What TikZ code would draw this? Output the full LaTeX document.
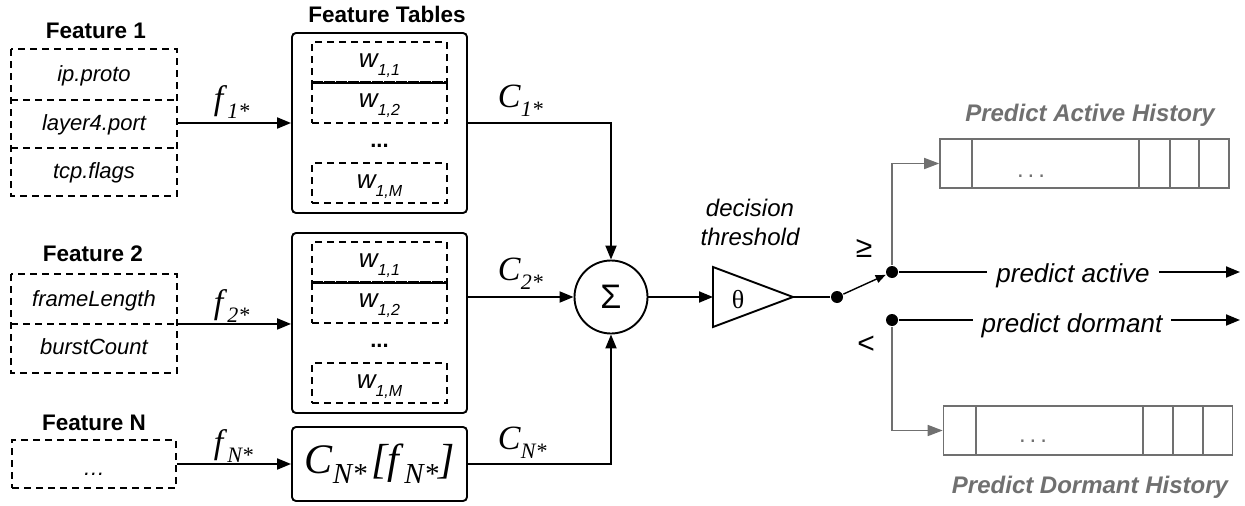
\documentclass[tikz,border=0pt]{standalone}
\usepackage{fontspec}
\setmainfont{Liberation Serif}
\setsansfont{Liberation Sans}
\usetikzlibrary{arrows.meta,calc}
\newcommand\fsz[1]{\fontsize{#1}{#1}\selectfont}
\newcommand\wl[1]{w\raisebox{-8pt}{\fsz{16}#1}}
\newcommand\sublab[2]{\textit{#1}\raisebox{-9pt}{\fsz{22}\textit{#2}}}
\newcommand\bigsub[1]{\raisebox{-10pt}{\fsz{29}\textit{#1}}}
\definecolor{hgray}{HTML}{707070}
\begin{document}
\begin{tikzpicture}[x=1pt,y=-1pt,line width=1.9pt,
  arr/.style={-{Triangle[length=14pt,width=11pt]}},
  garr/.style={draw=hgray,line width=1.6pt,-{Triangle[length=15pt,width=11pt]}},
  title/.style={font=\sffamily\bfseries\fsz{22.5}, inner sep=0pt, anchor=base},
  row/.style={minimum width=164pt, inner sep=0pt, font=\sffamily\itshape\fsz{22}, text height=16pt, text depth=2pt},
  tbl/.style={draw, rounded corners=4pt, minimum width=175pt, minimum height=180pt, inner sep=0pt},
  wbox/.style={minimum width=135pt, inner sep=0pt, font=\sffamily\itshape\fsz{26}, text height=14pt, text depth=4pt},
  dashbox/.style={draw, dash pattern=on 7pt off 5pt},
  mlab/.style={font=\rmfamily\fsz{34}, inner sep=0pt, anchor=base west},
  dot/.style={circle, fill, inner sep=0pt, minimum size=12pt},
  hist/.style={draw=hgray, line width=1.6pt, minimum width=289pt, minimum height=49pt, inner sep=0pt},
  htitle/.style={font=\sffamily\bfseries\itshape\fsz{24}, text=hgray, inner sep=0pt, anchor=base},
  pred/.style={font=\sffamily\itshape\fsz{26}, fill=white, inner xsep=9pt, inner ysep=0pt, anchor=base},
  dots/.style={font=\sffamily\bfseries\fsz{22}, inner sep=0pt, anchor=base},
]
\useasboundingbox (0,0) rectangle (1245,506);

% ---------- Feature 1 ----------
\node[title] (lF1) at (96,38) {Feature 1};
\node[row, minimum height=49pt] (f1a) at (94,74.5) {ip.proto};
\node[row, minimum height=48pt] (f1b) at (94,123) {layer4.port};
\node[row, minimum height=48pt] (f1c) at (94,171) {tcp.flags};
\draw[dashbox] (f1a.north west) rectangle (f1c.south east);
\draw[dashbox] (f1a.south west) -- (f1a.south east);
\draw[dashbox] (f1b.south west) -- (f1b.south east);

% ---------- Feature 2 ----------
\node[title] (lF2) at (93,261) {Feature 2};
\node[row, minimum height=48pt] (f2a) at (94,299) {frameLength};
\node[row, minimum height=49pt] (f2b) at (94,347.5) {burstCount};
\draw[dashbox] (f2a.north west) rectangle (f2b.south east);
\draw[dashbox] (f2a.south west) -- (f2a.south east);

% ---------- Feature N ----------
\node[title] (lFN) at (94,430) {Feature N};
\node[row, minimum height=48pt, dashbox, text height=22pt, text depth=0pt] (fN) at (94,464) {…};

% ---------- Feature tables ----------
\node[title] (lFT) at (387,22) {Feature Tables};
\node[tbl] (t1) at (379.5,123) {};
\node[wbox, dashbox, minimum height=40pt] (w11) at (379.5,62) {\wl{1,1}};
\node[wbox, dashbox, minimum height=41pt] (w12) at (379.5,102.5) {\wl{1,2}};
\draw (w11.south west) -- (w11.south east);
\node[dots] (t1d) at (379.5,147) {...};
\node[wbox, dashbox, minimum height=40pt] (w1M) at (379.5,183) {\wl{1,M}};

\node[tbl] (t2) at (379.5,323) {};
\node[wbox, dashbox, minimum height=40pt] (w21) at (379.5,262) {\wl{1,1}};
\node[wbox, dashbox, minimum height=41pt] (w22) at (379.5,302.5) {\wl{1,2}};
\draw (w21.south west) -- (w21.south east);
\node[dots] (t2d) at (379.5,347) {...};
\node[wbox, dashbox, minimum height=40pt] (w2M) at (379.5,383) {\wl{1,M}};

\node[draw, rounded corners=4pt, minimum width=175pt, minimum height=74pt, inner sep=0pt,
      font=\rmfamily\fsz{42}, text height=26pt, text depth=8pt] (cN) at (379.5,464)
      {\textit{C}\bigsub{N*}\hspace{5pt}\textit{[f}\bigsub{N*}\textit{]}};

% ---------- input arrows ----------
\draw[arr] (f1b.east) -- (f1b.east -| t1.west);
\draw[arr] (f2a.south east) -- (f2a.south east -| t2.west);
\draw[arr] (fN.east) -- (fN.east -| cN.west);
\node[mlab] (lf1) at (213,109) {\sublab{f}{1*}};
\node[mlab] (lf2) at (213,313) {\sublab{f}{2*}};
\node[mlab] (lfN) at (213,453) {\sublab{f}{N*}};

% ---------- sum ----------
\node[circle, draw, minimum size=73pt, inner sep=0pt, font=\sffamily\fsz{34}] (S) at (611,297) {Σ};
\draw[arr] (t1.east) -| (S.north);
\draw[arr] (t2.east |- S.west) -- (S.west);
\draw[arr] (cN.east) -| (S.south);
\node[mlab] (lc1) at (497,107) {\sublab{C}{1*}};
\node[mlab] (lc2) at (497,280) {\sublab{C}{2*}};
\node[mlab] (lcN) at (497,449) {\sublab{C}{N*}};

% ---------- threshold ----------
\coordinate (thL) at (713,297);
\coordinate (thT) at (793,297);
\draw (713,267) -- (thT) -- (713,327) -- cycle;
\node[font=\rmfamily\fsz{26}, inner sep=0pt] (theta) at (738,300) {θ};
\node[font=\sffamily\itshape\fontsize{24}{29}\selectfont, align=center, inner sep=0pt] (dth) at (750,222) {decision\\threshold};
\draw[arr] (S.east) -- (thL);

% ---------- switch ----------
\node[dot] (d0) at (837,297) {};
\node[dot] (d1) at (892,272) {};
\node[dot] (d2) at (892,320) {};
\draw (thT) -- (d0);
\draw[line width=1.4pt, -{Triangle[length=10pt,width=8pt]}] (d0) -- (d1);
\node[font=\sffamily\fsz{30}, inner sep=0pt] (ge) at (864,248) {≥};
\node[font=\sffamily\fsz{30}, inner sep=0pt] (lt) at (866,345) {<};

\coordinate (pa) at (1240,272);
\coordinate (pd) at (1240,320);
\draw[arr] (d1) -- (pa);
\draw[arr] (d2) -- (pd);
\node[pred] (tpa) at (1073,282) {predict active};
\node[pred] (tpd) at (1072,332) {predict dormant};

% ---------- histories ----------
\node[hist] (hA) at (1084.5,163.5) {};
\foreach \x in {972,1139,1170,1199} \draw[hgray, line width=1.6pt] (\x,0 |- hA.north) -- (\x,0 |- hA.south);
\node[font=\sffamily\fsz{24}, text=hgray, inner sep=0pt, anchor=base] (hAd) at (1031,177) {.\,.\,.};
\node[htitle] (lhA) at (1090,121) {Predict Active History};
\draw[garr] (d1) |- (hA.west);

\node[hist] (hD) at (1088,430.5) {};
\foreach \x in {976,1143,1173,1203} \draw[hgray, line width=1.6pt] (\x,0 |- hD.north) -- (\x,0 |- hD.south);
\node[font=\sffamily\fsz{24}, text=hgray, inner sep=0pt, anchor=base] (hDd) at (1033,442) {.\,.\,.};
\node[htitle] (lhD) at (1090,493) {Predict Dormant History};
\draw[garr] (d2) |- (hD.west);
\end{tikzpicture}
\end{document}
